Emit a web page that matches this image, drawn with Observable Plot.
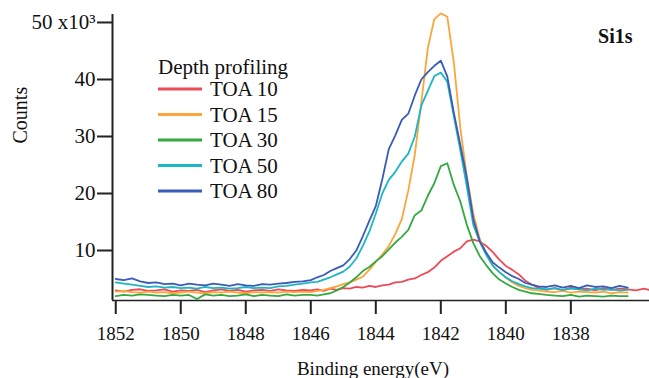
<!DOCTYPE html>
<html>
<head>
<meta charset="utf-8">
<script src="https://cdn.jsdelivr.net/npm/d3@7"></script>
<script src="https://cdn.jsdelivr.net/npm/@observablehq/plot@0.6"></script>
<style>
  html, body { margin: 0; padding: 0; background: #fff; }
  #wrap { position: relative; width: 649px; height: 378px; overflow: hidden; }
</style>
</head>
<body>
<div id="wrap"></div>
<script>
// Binding energy grid (eV)
const energy = [
  1852.0, 1851.75, 1851.5, 1851.25, 1851.0, 1850.75, 1850.5, 1850.25, 1850.0, 1849.75,
  1849.5, 1849.25, 1849.0, 1848.75, 1848.5, 1848.25, 1848.0, 1847.75, 1847.5, 1847.25,
  1847.0, 1846.75, 1846.5, 1846.25,
  1846.0, 1845.8, 1845.6, 1845.4, 1845.2, 1845.0, 1844.8, 1844.6, 1844.4, 1844.2,
  1844.0, 1843.8, 1843.6, 1843.4, 1843.2, 1843.0, 1842.8, 1842.6, 1842.4, 1842.2,
  1842.0, 1841.8, 1841.6, 1841.4, 1841.2, 1841.0, 1840.8, 1840.6, 1840.4, 1840.2,
  1840.0, 1839.8, 1839.6, 1839.4, 1839.2, 1839.0,
  1838.75, 1838.5, 1838.25, 1838.0, 1837.75, 1837.5, 1837.25, 1837.0, 1836.75, 1836.5, 1836.25,
  1836.0, 1835.75, 1835.6
];
// Counts (x10^3)
const toa10 = [
  3.0, 2.8, 3.1, 3.2, 2.9, 3.0, 3.2, 2.8, 3.0, 2.9, 3.1, 2.7, 3.0, 3.2, 2.9, 3.1, 2.8, 3.0, 3.1, 2.9, 3.2, 3.0, 2.9, 3.1,
  3.0, 3.2, 2.9, 3.3, 3.1, 3.4, 3.3, 3.6, 3.5, 3.8, 3.6, 3.9, 4.0, 4.4, 4.5, 4.9, 5.1, 5.7, 6.2, 7.0,
  8.2, 9.0, 9.8, 10.4, 11.6, 11.9, 11.6, 10.8, 9.7, 8.4, 7.3, 6.6, 5.8, 4.7, 4.0, 3.5,
  3.1, 3.4, 3.0, 3.5, 3.2, 3.3, 3.0, 3.4, 3.1, 3.3, 3.2,
  3.0, 3.3, 3.1
];
const toa15 = [
  2.8, 2.9, 2.7, 2.6, 2.8, 2.6, 2.7, 2.5, 2.6, 2.8, 2.6, 2.5, 2.7, 2.6, 2.8, 2.6, 2.5, 2.7, 2.6, 2.7, 2.6, 2.8, 2.7, 2.8,
  2.7, 2.9, 3.1, 3.4, 3.7, 4.1, 4.4, 4.9, 5.4, 6.6, 8.0, 9.3, 10.8, 12.9, 15.5, 20.5, 26.8, 36.0, 45.5, 50.6,
  51.6, 51.0, 43.0, 31.5, 23.0, 16.5, 12.0, 9.4, 7.4, 6.2, 5.2, 4.4, 3.8, 3.4, 3.1, 3.0,
  2.8, 2.7, 2.9, 2.6, 2.8, 2.7, 2.6, 2.8, 2.5, 2.7, 2.6,
  null, null, null
];
const toa30 = [
  2.0, 2.2, 2.1, 2.3, 2.2, 2.1, 2.0, 2.2, 2.1, 2.2, 1.5, 2.3, 2.1, 2.2, 2.0, 2.1, 2.3, 2.0, 2.2, 2.1, 2.0, 2.3, 2.1, 2.2,
  2.2, 2.1, 2.3, 2.5, 3.0, 3.6, 4.4, 5.3, 6.4, 7.1, 8.1, 9.0, 10.2, 11.4, 12.4, 13.6, 16.2, 17.0, 19.6, 21.8,
  24.8, 25.3, 21.5, 18.6, 14.5, 11.3, 9.0, 7.4, 6.0, 4.9, 4.2, 3.6, 3.1, 2.8, 2.5, 2.4,
  2.2, 2.1, 2.0, 2.2, 1.9, 2.1, 2.0, 1.9, 2.1, 2.0, 2.0,
  null, null, null
];
const toa50 = [
  4.4, 4.2, 4.0, 3.8, 3.6, 3.7, 3.5, 3.6, 3.4, 3.5, 3.3, 3.6, 3.4, 3.5, 3.3, 3.4, 3.6, 3.4, 3.5, 3.4, 3.7, 3.8, 4.0, 4.2,
  4.4, 4.5, 4.9, 5.3, 5.8, 6.3, 7.2, 8.6, 10.8, 13.3, 16.5, 20.0, 22.4, 23.8, 25.6, 27.0, 30.0, 35.4, 38.0, 40.6,
  41.2, 39.6, 33.6, 27.6, 21.2, 14.5, 11.5, 9.2, 7.3, 6.2, 5.3, 4.6, 4.1, 3.7, 3.4, 3.3,
  3.2, 3.4, 3.1, 3.3, 3.2, 3.0, 3.3, 3.1, 3.2, 3.0, 3.1,
  null, null, null
];
const toa80 = [
  5.0, 4.8, 5.1, 4.6, 4.3, 4.4, 4.1, 4.2, 3.9, 4.2, 4.0, 3.9, 4.2, 4.0, 3.8, 4.1, 3.9, 3.8, 4.1, 4.0, 4.2, 4.3, 4.5, 4.6,
  4.8, 5.3, 5.7, 6.4, 6.9, 7.4, 8.5, 10.0, 12.5, 15.2, 17.8, 22.5, 27.8, 30.2, 32.9, 34.0, 37.2, 40.0, 41.3, 42.4,
  43.3, 40.5, 34.2, 28.5, 22.8, 15.5, 11.6, 9.6, 7.9, 7.0, 6.2, 5.5, 5.0, 4.3, 4.0, 3.7,
  3.6, 3.9, 3.5, 3.8, 3.4, 3.9, 3.6, 3.7, 3.4, 3.8, 3.5,
  null, null, null
];
const seriesNames = ["TOA 10", "TOA 15", "TOA 30", "TOA 50", "TOA 80"];
const seriesColors = ["#ec4b55", "#fba53c", "#35a83f", "#1db6c6", "#3a5bb8"];
const xTicks = [1852, 1850, 1848, 1846, 1844, 1842, 1840, 1838];
const yTicks = [10, 20, 30, 40, 50];
const legendTitle = "Depth profiling";
const panelLabel = "Si1s";
const xLabel = "Binding energy(eV)";
const yLabel = "Counts";

const seriesValues = [toa10, toa15, toa30, toa50, toa80];
const rows = [];
seriesNames.forEach((name, s) => {
  seriesValues[s].forEach((v, i) => {
    if (v != null) rows.push({ energy: energy[i], counts: v, series: name });
  });
});

const FONT = "'Liberation Serif', 'Times New Roman', serif";
const xDomain = [1852.1, 1835.58];
const yDomain = [1.23, 51.4];

const chart = Plot.plot({
  width: 649,
  height: 378,
  marginLeft: 112,
  marginRight: 0,
  marginTop: 14,
  marginBottom: 78,
  style: { fontFamily: FONT, background: "transparent", color: "#111", overflow: "visible" },
  x: { domain: xDomain },
  y: { domain: yDomain },
  color: { domain: seriesNames, range: seriesColors },
  marks: [
    Plot.line(rows, { x: "energy", y: "counts", stroke: "series", z: "series", strokeWidth: 1.8 }),
    Plot.ruleY([yDomain[0]], { stroke: "#222", strokeWidth: 1.5 }),
    Plot.ruleX([xDomain[0]], { stroke: "#222", strokeWidth: 2 }),
    Plot.axisX({ ticks: xTicks, tickSize: 14, tickPadding: 12, fontSize: 19, tickFormat: "d", label: null, stroke: "#222", strokeWidth: 2 }),
    Plot.axisY({ ticks: yTicks, tickSize: 15, tickPadding: 2, fontSize: 21, tickFormat: d => d === 50 ? "50 x10\u00B3" : String(d), label: null, stroke: "#222", strokeWidth: 2 }),
    Plot.text([yLabel], { text: d => d, frameAnchor: "left", lineAnchor: "middle", dx: -92, dy: -14, rotate: -90, fontSize: 20, fill: "#111" }),
    Plot.text([xLabel], { text: d => d, frameAnchor: "bottom", lineAnchor: "middle", dx: -8, dy: 68, fontSize: 19, fill: "#111" }),
    Plot.text([panelLabel], { text: d => d, frameAnchor: "top-right", lineAnchor: "middle", dx: -17, dy: 22, textAnchor: "end", fontSize: 20, fontWeight: "bold", fill: "#111" })
  ]
});
document.getElementById("wrap").appendChild(chart);

// Legend drawn inside the plot SVG (top-left of the plot area)
const svg = d3.select(chart.tagName.toLowerCase() === "svg" ? chart : chart.querySelector("svg"));
const lg = svg.append("g")
  .style("font-family", FONT)
  .attr("text-anchor", "start")
  .attr("fill", "#111");
lg.append("text")
  .attr("x", 158).attr("y", 67)
  .attr("dy", "0.35em")
  .attr("text-anchor", "start")
  .style("font-size", "21px")
  .text(legendTitle);
seriesNames.forEach((name, i) => {
  const cy = 89 + 25.5 * i;
  lg.append("line")
    .attr("x1", 158).attr("x2", 202)
    .attr("y1", cy).attr("y2", cy)
    .attr("stroke", seriesColors[i]).attr("stroke-width", 3);
  lg.append("text")
    .attr("x", 210).attr("y", cy)
    .attr("dy", "0.35em")
    .attr("text-anchor", "start")
    .style("font-size", "21px")
    .text(name);
});
</script>
</body>
</html>
